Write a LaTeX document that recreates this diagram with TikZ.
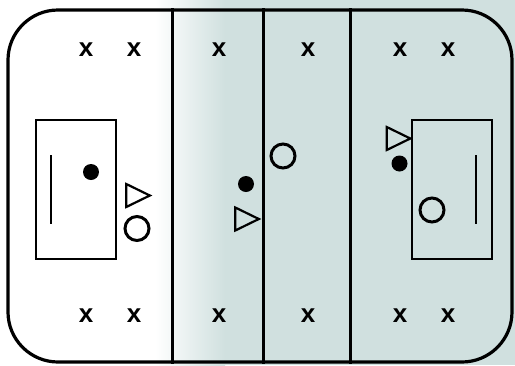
\documentclass[tikz,border=0pt]{standalone}
\usepackage{fontspec}
\setsansfont{Liberation Sans}
\usetikzlibrary{shapes.geometric, positioning}
\definecolor{iceteal}{RGB}{208,224,223}

\begin{document}
\begin{tikzpicture}[
    x=1pt, y=-1pt,
    every node/.style={font=\sffamily\bfseries\fontsize{26}{26}\selectfont, inner sep=0pt},
    rink/.style={draw, line width=3.2pt, rounded corners=50pt, minimum width=504pt, minimum height=352pt},
    zone line/.style={line width=3pt},
    crease/.style={draw, line width=2pt, minimum width=80pt, minimum height=139pt},
    goal line/.style={line width=2.5pt},
    puck/.style={circle, fill=black, minimum size=16pt},
    attacker/.style={isosceles triangle, draw, line width=2.2pt, isosceles triangle apex angle=52, minimum height=23.5pt},
    defender/.style={circle, draw, line width=3pt, minimum size=24pt}
]
\useasboundingbox (0,0) rectangle (515,365);

% Background
\fill[white] (0,0) rectangle (515,365);
\shade[left color=white, right color=iceteal] (155,0) rectangle (225,365);
\fill[iceteal] (225,0) rectangle (515,365);

% Rink and zone lines
\node[rink] (rink) at (260,186) {};
\draw[zone line] (rink.north -| 172.5,0) -- (rink.south -| 172.5,0);
\draw[zone line] (rink.north -| 263,0) -- (rink.south -| 263,0);
\draw[zone line] (rink.north -| 350.5,0) -- (rink.south -| 350.5,0);

% Creases
\node[crease] (lcrease) at (76,189.5) {};
\node[crease] (rcrease) at (452,189.5) {};
\draw[goal line] (51,155) -- (51,224);
\draw[goal line] (476,155) -- (476,224);

% Spots
\node (xtl1) at (86,49.5) {x};
\node (xtl2) at (134,49.5) {x};
\node (xtm1) at (219,49.5) {x};
\node (xtm2) at (308,49.5) {x};
\node (xtr1) at (400,49.5) {x};
\node (xtr2) at (448,49.5) {x};
\node (xbl1) at (86,315.5) {x};
\node (xbl2) at (134,315.5) {x};
\node (xbm1) at (219,315.5) {x};
\node (xbm2) at (308,315.5) {x};
\node (xbr1) at (400,315.5) {x};
\node (xbr2) at (448,315.5) {x};

% Players
\node[puck] (lpuck) at (91,172) {};
\node[attacker] (latt) at (133.5,195.5) {};
\node[defender] (ldef) at (137,228.5) {};

\node[puck] (mpuck) at (246,184) {};
\node[attacker] (matt) at (242.5,219) {};
\node[defender] (mdef) at (283,156) {};

\node[attacker] (ratt) at (394,138.5) {};
\node[puck] (rpuck) at (399.5,163.5) {};
\node[defender] (rdef) at (432,210) {};

\end{tikzpicture}
\end{document}
